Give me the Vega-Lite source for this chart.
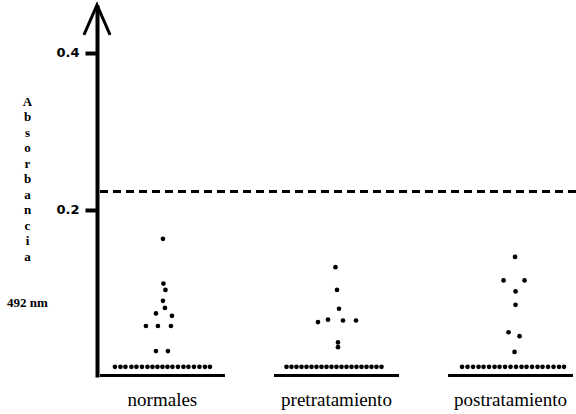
{
  "$schema": "https://vega.github.io/schema/vega-lite/v6.json",
  "width": 479,
  "height": 372,
  "autosize": {"type": "none"},
  "padding": {"left": 97, "top": 5, "right": 0, "bottom": 37},
  "background": "white",
  "config": {"view": {"stroke": null}},
  "data": {
    "values": [
      {"grupo": "normales", "absorbancia": 0.163, "col": 0.1},
      {"grupo": "normales", "absorbancia": 0.106, "col": 0.2},
      {"grupo": "normales", "absorbancia": 0.098, "col": 0.6},
      {"grupo": "normales", "absorbancia": 0.084, "col": 0.1},
      {"grupo": "normales", "absorbancia": 0.075, "col": 0.5},
      {"grupo": "normales", "absorbancia": 0.068, "col": -1.3},
      {"grupo": "normales", "absorbancia": 0.065, "col": 1.9},
      {"grupo": "normales", "absorbancia": 0.052, "col": -3.3},
      {"grupo": "normales", "absorbancia": 0.052, "col": -0.9},
      {"grupo": "normales", "absorbancia": 0.052, "col": 1.7},
      {"grupo": "normales", "absorbancia": 0.020, "col": -1.3},
      {"grupo": "normales", "absorbancia": 0.020, "col": 1.1},
      {"grupo": "normales", "absorbancia": 0, "col": -9.5},
      {"grupo": "normales", "absorbancia": 0, "col": -8.4},
      {"grupo": "normales", "absorbancia": 0, "col": -7.4},
      {"grupo": "normales", "absorbancia": 0, "col": -6.2},
      {"grupo": "normales", "absorbancia": 0, "col": -5.2},
      {"grupo": "normales", "absorbancia": 0, "col": -4.1},
      {"grupo": "normales", "absorbancia": 0, "col": -3.0},
      {"grupo": "normales", "absorbancia": 0, "col": -2.0},
      {"grupo": "normales", "absorbancia": 0, "col": -1.0},
      {"grupo": "normales", "absorbancia": 0, "col": 0.0},
      {"grupo": "normales", "absorbancia": 0, "col": 1.0},
      {"grupo": "normales", "absorbancia": 0, "col": 2.0},
      {"grupo": "normales", "absorbancia": 0, "col": 3.1},
      {"grupo": "normales", "absorbancia": 0, "col": 4.2},
      {"grupo": "normales", "absorbancia": 0, "col": 5.2},
      {"grupo": "normales", "absorbancia": 0, "col": 6.3},
      {"grupo": "normales", "absorbancia": 0, "col": 7.4},
      {"grupo": "normales", "absorbancia": 0, "col": 8.5},
      {"grupo": "normales", "absorbancia": 0, "col": 9.5},
      {"grupo": "pretratamiento", "absorbancia": 0.127, "col": -0.2},
      {"grupo": "pretratamiento", "absorbancia": 0.098, "col": 0.1},
      {"grupo": "pretratamiento", "absorbancia": 0.074, "col": 0.5},
      {"grupo": "pretratamiento", "absorbancia": 0.057, "col": -3.7},
      {"grupo": "pretratamiento", "absorbancia": 0.060, "col": -1.7},
      {"grupo": "pretratamiento", "absorbancia": 0.059, "col": 1.3},
      {"grupo": "pretratamiento", "absorbancia": 0.059, "col": 3.9},
      {"grupo": "pretratamiento", "absorbancia": 0.031, "col": 0.3},
      {"grupo": "pretratamiento", "absorbancia": 0.025, "col": 0.3},
      {"grupo": "pretratamiento", "absorbancia": 0, "col": -10},
      {"grupo": "pretratamiento", "absorbancia": 0, "col": -9},
      {"grupo": "pretratamiento", "absorbancia": 0, "col": -8},
      {"grupo": "pretratamiento", "absorbancia": 0, "col": -7},
      {"grupo": "pretratamiento", "absorbancia": 0, "col": -6},
      {"grupo": "pretratamiento", "absorbancia": 0, "col": -5},
      {"grupo": "pretratamiento", "absorbancia": 0, "col": -4},
      {"grupo": "pretratamiento", "absorbancia": 0, "col": -3},
      {"grupo": "pretratamiento", "absorbancia": 0, "col": -2},
      {"grupo": "pretratamiento", "absorbancia": 0, "col": -1},
      {"grupo": "pretratamiento", "absorbancia": 0, "col": 0},
      {"grupo": "pretratamiento", "absorbancia": 0, "col": 1},
      {"grupo": "pretratamiento", "absorbancia": 0, "col": 2},
      {"grupo": "pretratamiento", "absorbancia": 0, "col": 3},
      {"grupo": "pretratamiento", "absorbancia": 0, "col": 4},
      {"grupo": "pretratamiento", "absorbancia": 0, "col": 5},
      {"grupo": "pretratamiento", "absorbancia": 0, "col": 6},
      {"grupo": "pretratamiento", "absorbancia": 0, "col": 7},
      {"grupo": "pretratamiento", "absorbancia": 0, "col": 8},
      {"grupo": "pretratamiento", "absorbancia": 0, "col": 9},
      {"grupo": "postratamiento", "absorbancia": 0.140, "col": 0.9},
      {"grupo": "postratamiento", "absorbancia": 0.110, "col": -1.4},
      {"grupo": "postratamiento", "absorbancia": 0.110, "col": 2.8},
      {"grupo": "postratamiento", "absorbancia": 0.096, "col": 1.0},
      {"grupo": "postratamiento", "absorbancia": 0.079, "col": 1.0},
      {"grupo": "postratamiento", "absorbancia": 0.044, "col": -0.4},
      {"grupo": "postratamiento", "absorbancia": 0.039, "col": 1.8},
      {"grupo": "postratamiento", "absorbancia": 0.019, "col": 0.8},
      {"grupo": "postratamiento", "absorbancia": 0, "col": -9.7},
      {"grupo": "postratamiento", "absorbancia": 0, "col": -8.6},
      {"grupo": "postratamiento", "absorbancia": 0, "col": -7.5},
      {"grupo": "postratamiento", "absorbancia": 0, "col": -6.4},
      {"grupo": "postratamiento", "absorbancia": 0, "col": -5.4},
      {"grupo": "postratamiento", "absorbancia": 0, "col": -4.3},
      {"grupo": "postratamiento", "absorbancia": 0, "col": -3.2},
      {"grupo": "postratamiento", "absorbancia": 0, "col": -2.2},
      {"grupo": "postratamiento", "absorbancia": 0, "col": -1.1},
      {"grupo": "postratamiento", "absorbancia": 0, "col": 0},
      {"grupo": "postratamiento", "absorbancia": 0, "col": 1.1},
      {"grupo": "postratamiento", "absorbancia": 0, "col": 2.2},
      {"grupo": "postratamiento", "absorbancia": 0, "col": 3.2},
      {"grupo": "postratamiento", "absorbancia": 0, "col": 4.3},
      {"grupo": "postratamiento", "absorbancia": 0, "col": 5.4},
      {"grupo": "postratamiento", "absorbancia": 0, "col": 6.4},
      {"grupo": "postratamiento", "absorbancia": 0, "col": 7.5},
      {"grupo": "postratamiento", "absorbancia": 0, "col": 8.6},
      {"grupo": "postratamiento", "absorbancia": 0, "col": 9.7},
      {"grupo": "postratamiento", "absorbancia": 0, "col": 10.7}
    ]
  },
  "layer": [
    {
      "mark": {"type": "rule", "strokeDash": [8, 5], "strokeWidth": 2.5, "color": "black"},
      "encoding": {
        "y": {"datum": 0.223, "type": "quantitative"}
      }
    },
    {
      "transform": [{"aggregate": [{"op": "count", "as": "n"}], "groupby": ["grupo"]}],
      "mark": {"type": "tick", "orient": "horizontal", "size": 125, "thickness": 3, "color": "black", "opacity": 1},
      "encoding": {
        "x": {"field": "grupo", "type": "nominal", "sort": ["normales", "pretratamiento", "postratamiento"]},
        "y": {"datum": -0.011, "type": "quantitative"}
      }
    },
    {
      "mark": {"type": "point", "shape": "circle", "filled": true, "size": 22, "color": "black", "opacity": 1},
      "encoding": {
        "x": {
          "field": "grupo",
          "type": "nominal",
          "bandPosition": 0,
          "sort": ["normales", "pretratamiento", "postratamiento"],
          "scale": {"type": "band", "domain": ["normales", "pretratamiento", "postratamiento"], "paddingInner": 0.5, "paddingOuter": 0.126},
          "axis": {
            "title": null,
            "bandPosition": 0.5,
            "domain": false,
            "ticks": false,
            "labelAngle": 0,
            "labelAlign": "center",
            "labelFont": "Liberation Serif",
            "labelFontSize": 19,
            "labelColor": "black",
            "labelPadding": 22
          }
        },
        "xOffset": {
          "field": "col",
          "type": "quantitative",
          "scale": {"type": "linear", "domain": [-10, 10], "range": [-6.5, 93.5]}
        },
        "y": {
          "field": "absorbancia",
          "type": "quantitative",
          "scale": {"domain": [-0.013, 0.461], "nice": false, "zero": false},
          "axis": {
            "values": [0.2, 0.4],
            "format": ".1f",
            "grid": false,
            "domainColor": "black",
            "domainWidth": 4,
            "tickColor": "black",
            "tickWidth": 4,
            "tickSize": 12,
            "labelFont": "DejaVu Sans",
            "labelFontSize": 13,
            "labelFontWeight": "bold",
            "labelColor": "black",
            "labelPadding": 6,
            "title": ["A", "b", "s", "o", "r", "b", "a", "n", "c", "i", "a", "\u2800", "\u2800", "492 nm"],
            "titleAngle": 0,
            "titleX": -70,
            "titleY": 100,
            "titleAlign": "center",
            "titleBaseline": "alphabetic",
            "titleLineHeight": 15.5,
            "titleFont": "Liberation Serif",
            "titleFontSize": 13,
            "titleFontWeight": "bold",
            "titleColor": "black"
          }
        }
      }
    },
    {
      "data": {"values": [{}]},
      "mark": {"type": "point", "shape": "M-0.87,1L0,-1L0.87,1", "size": 900, "filled": false, "strokeWidth": 3, "color": "black", "opacity": 1},
      "encoding": {
        "x": {"value": 0},
        "y": {"datum": 0.442, "type": "quantitative"}
      }
    }
  ]
}
